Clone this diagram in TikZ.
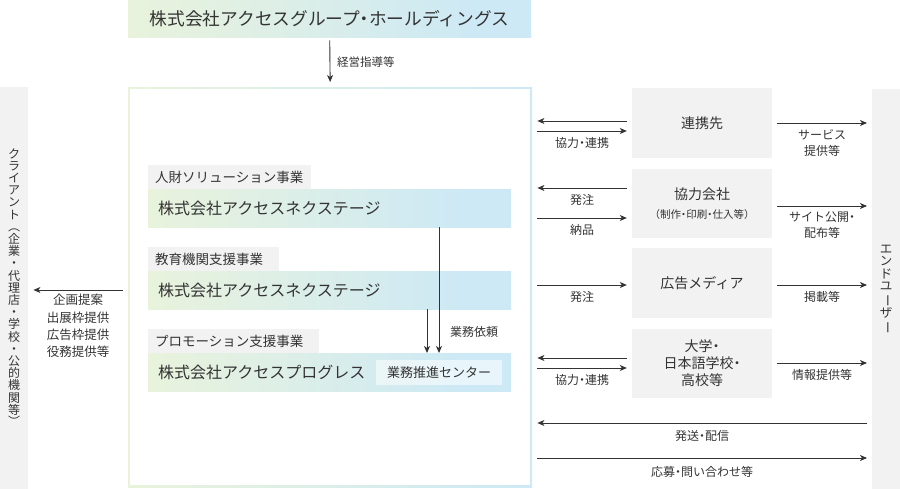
\documentclass[tikz,border=0pt]{standalone}
\usepackage{fontspec}
\setmainfont{Noto Sans CJK JP}
\usetikzlibrary{arrows.meta}
\definecolor{gL}{RGB}{233,243,220}
\definecolor{gR}{RGB}{205,233,245}
\definecolor{grayF}{RGB}{242,242,242}
\definecolor{ink}{RGB}{51,51,51}
\pgfdeclarehorizontalshading{grd}{100bp}{color(0bp)=(gL); color(25bp)=(gL); color(68bp)=(gR); color(100bp)=(gR)}
\newcommand{\myfs}[1]{\fontsize{#1}{#1}\selectfont}
\newcommand{\vrot}[1]{\rotatebox[origin=c]{-90}{#1}}
\newcommand{\dt}{{\addfontfeature{RawFeature=+palt}・}}
\begin{document}
\begin{tikzpicture}[x=1pt,y=-1pt,
  every node/.style={text=ink, inner sep=0pt},
  arr/.style={draw=ink, line width=0.9pt, -{Stealth[length=7pt,width=6pt,inset=2pt]}},
  sgap/.style={shorten <=5pt, shorten >=5pt},
  grad/.style={shade, shading=grd, draw=none},
  graybox/.style={fill=grayF, draw=none},
  lbl/.style={font=\myfs{12}, align=center},
  tabbox/.style={fill=grayF, anchor=north west, minimum height=24, inner xsep=7, font=\myfs{13.5}},
  barbox/.style={grad, anchor=north west, minimum width=363, minimum height=38, inner xsep=10, font=\myfs{16}},
  rbox/.style={graybox, minimum width=140, minimum height=70, font=\myfs{14}, align=center},
]
\useasboundingbox (0,0) rectangle (900,489);

% header
\node[grad, anchor=north west, minimum width=403, minimum height=37, font=\myfs{17.7}] (hd) at (128,0) {株式会社アクセスグループ\dt ホールディングス};

% main box with gradient border
\node[left color=gL, right color=gR, draw=none, anchor=north west, minimum width=404, minimum height=400] (main) at (128,87) {};
\fill[white] ([shift={(2,2)}]main.north west) rectangle ([shift={(-2,-2)}]main.south east);

\draw[arr, shorten <=3pt, shorten >=5pt] (hd.south) -- (main.north);
\node[anchor=west, font=\myfs{11.5}] (keiei) at (337,62) {経営指導等};

% side columns
\node[graybox, anchor=north west, minimum width=28, minimum height=402, align=center, font=\fontsize{12}{12.2}\selectfont] (cl) at (0,87)
 {ク\\ラ\\イ\\ア\\ン\\ト\\\vrot{（}\\企\\業\\・\\代\\理\\店\\・\\学\\校\\・\\公\\的\\機\\関\\等\\\vrot{）}};
\node[graybox, anchor=north west, minimum width=28, minimum height=400, align=center, font=\fontsize{12.5}{12.5}\selectfont] (eu) at (872,89)
 {エ\\ン\\ド\\ユ\\\vrot{ー}\\ザ\\\vrot{ー}};

% left arrow
\draw[arr, sgap] (main.west |- 0,290) -- (cl.east |- 0,290);
\node[font=\fontsize{12.5}{17.3}\selectfont, align=center] (cltxt) at (78,326) {企画提案\\出展枠提供\\広告枠提供\\役務提供等};

% center business units
\node[tabbox] (tab1) at (148,165) {\makebox[149pt][l]{人財ソリューション事業}};
\node[barbox] (bar1) at (148,189) {\makebox[343pt][l]{株式会社アクセスネクステージ}};
\node[tabbox] (tab2) at (148,247) {\makebox[117pt][l]{教育機関支援事業}};
\node[barbox] (bar2) at (148,271) {\makebox[343pt][l]{株式会社アクセスネクステージ}};
\node[tabbox] (tab3) at (148,329) {\makebox[157pt][l]{プロモーション支援事業}};
\node[barbox] (bar3) at (148,353) {\makebox[343pt][l]{株式会社アクセスプログレス}};
\node[anchor=north west, fill=white, fill opacity=0.55, text opacity=1, minimum width=126, minimum height=25, font=\myfs{13}] (gs) at (376,360) {業務推進センター};

\draw[arr] (bar1.south -| 439,0) -- (bar3.north -| 439,0);
\draw[arr] (bar2.south -| 427,0) -- (bar3.north -| 427,0);
\node[anchor=west, font=\myfs{12}] (irai) at (450,332) {業務依頼};

% right boxes
\node[rbox] (ren) at (702,123) {連携先};
\node[rbox, minimum height=69, font=\fontsize{14}{19}\selectfont] (kyo) at (702,203.5) {協力会社\\{\myfs{10.5}（制作\dt 印刷\dt 仕入等）}};
\node[rbox] (ad) at (702,283) {広告メディア};
\node[rbox, minimum height=69, font=\fontsize{14}{17}\selectfont] (dai) at (702,363.5) {大学\dt\\日本語学校\dt\\高校等};

% arrows main <-> boxes
\draw[arr, sgap] (ren.west |- 0,121) -- (main.east |- 0,121);
\draw[arr, sgap] (main.east |- 0,131) -- (ren.west |- 0,131);
\node[lbl] (t1) at (582,143) {協力\dt 連携};
\draw[arr, sgap] (kyo.west |- 0,188) -- (main.east |- 0,188);
\node[lbl] (t2) at (582,200) {発注};
\draw[arr, sgap] (main.east |- 0,218) -- (kyo.west |- 0,218);
\node[lbl] (t3) at (582,230) {納品};
\draw[arr, sgap] (main.east |- 0,285) -- (ad.west |- 0,285);
\node[lbl] (t4) at (582,297) {発注};
\draw[arr, sgap] (dai.west |- 0,358) -- (main.east |- 0,358);
\draw[arr, sgap] (main.east |- 0,368) -- (dai.west |- 0,368);
\node[lbl] (t5) at (582,380) {協力\dt 連携};

% long arrows
\draw[arr, sgap] (eu.west |- 0,423) -- (main.east |- 0,423);
\node[lbl] (t6) at (702,436) {発送\dt 配信};
\draw[arr, sgap] (main.east |- 0,458) -- (eu.west |- 0,458);
\node[lbl] (t7) at (702,472) {応募\dt 問い合わせ等};

% arrows boxes -> end user
\draw[arr, sgap] (ren.east |- 0,123) -- (eu.west |- 0,123);
\node[lbl, font=\fontsize{12}{16}\selectfont] (t8) at (822,143) {サービス\\提供等};
\draw[arr, sgap] (kyo.east |- 0,206) -- (eu.west |- 0,206);
\node[lbl, font=\fontsize{12}{16}\selectfont] (t9) at (822,225) {サイト公開\dt\\配布等};
\draw[arr, sgap] (ad.east |- 0,285) -- (eu.west |- 0,285);
\node[lbl] (t10) at (822,297) {掲載等};
\draw[arr, sgap] (dai.east |- 0,363) -- (eu.west |- 0,363);
\node[lbl] (t11) at (822,375) {情報提供等};
\end{tikzpicture}
\end{document}
